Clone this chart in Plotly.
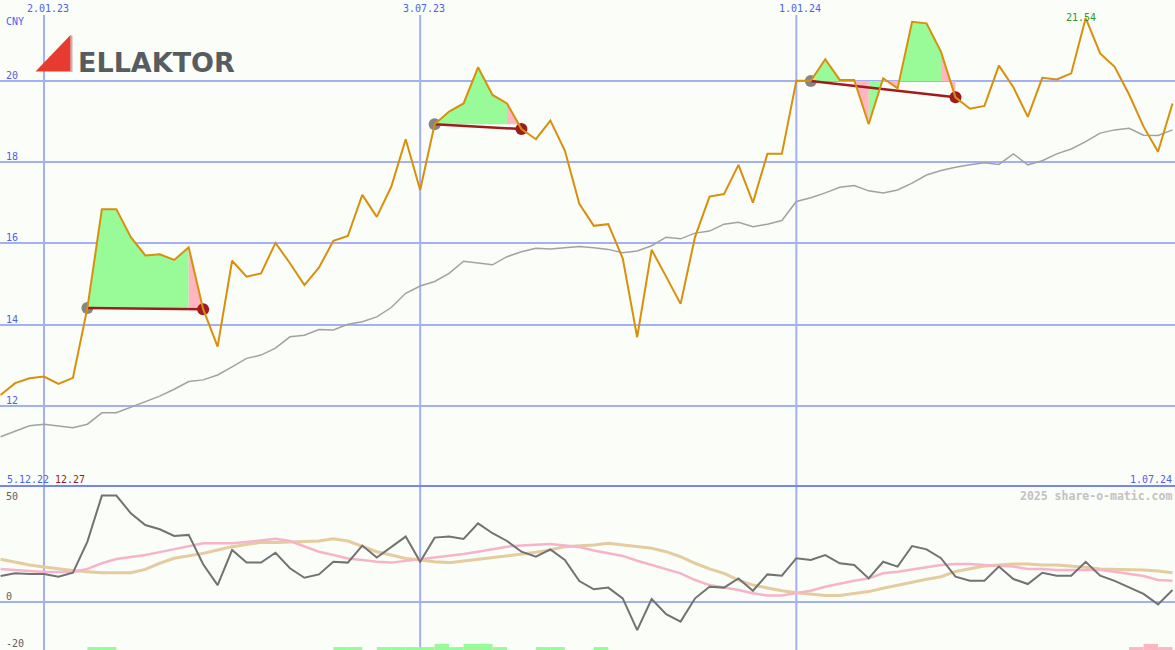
import plotly.graph_objects as go
import pandas as pd

W, H = 1175, 650

# ---------------- data ----------------
dates = pd.date_range("2022-12-12", periods=82, freq="7D")

price = [12.27, 12.56, 12.68, 12.72, 12.54, 12.69, 14.41, 16.84, 16.84, 16.15,
         15.70, 15.73, 15.59, 15.90, 14.38, 13.46, 15.57, 15.18, 15.26, 16.01,
         15.51, 14.97, 15.40, 16.06, 16.18, 17.19, 16.65, 17.39, 18.56, 17.31,
         18.93, 19.24, 19.44, 20.33, 19.65, 19.44, 18.81, 18.56, 19.02, 18.28,
         16.97, 16.43, 16.47, 15.63, 13.69, 15.84, 15.18, 14.51, 16.16, 17.15,
         17.21, 17.93, 17.00, 18.20, 18.20, 20.00, 20.00, 20.53, 20.02, 20.02,
         18.93, 20.06, 19.81, 21.45, 21.41, 20.71, 19.59, 19.31, 19.38, 20.37,
         19.84, 19.11, 20.07, 20.03, 20.18, 21.54, 20.67, 20.34, 19.66, 18.87,
         18.25, 19.44]

moving_avg = [11.24, 11.37, 11.51, 11.55, 11.51, 11.46, 11.55, 11.83, 11.83, 11.97,
              12.10, 12.24, 12.41, 12.60, 12.64, 12.76, 12.96, 13.17, 13.25, 13.42,
              13.70, 13.74, 13.88, 13.87, 14.01, 14.07, 14.19, 14.42, 14.77, 14.95,
              15.06, 15.26, 15.56, 15.52, 15.47, 15.67, 15.79, 15.88, 15.86, 15.89,
              15.92, 15.89, 15.85, 15.77, 15.81, 15.94, 16.15, 16.11, 16.25, 16.30,
              16.47, 16.52, 16.41, 16.47, 16.56, 17.03, 17.12, 17.24, 17.38, 17.42,
              17.29, 17.24, 17.31, 17.48, 17.68, 17.79, 17.87, 17.93, 17.98, 17.94,
              18.20, 17.93, 18.03, 18.20, 18.32, 18.50, 18.71, 18.79, 18.83, 18.66,
              18.65, 18.79]

oscillator = [12.2, 13.5, 13.2, 13.2, 11.9, 13.8, 28.6, 50.5, 50.5, 42.1,
              36.5, 34.5, 31.3, 31.8, 17.8, 7.9, 24.6, 18.6, 18.6, 23.3,
              15.9, 11.4, 13.0, 19.0, 18.6, 26.7, 21.0, 26.2, 31.0, 19.0,
              30.5, 31.0, 29.9, 37.3, 32.6, 28.9, 23.8, 21.4, 24.9, 19.9,
              9.8, 5.9, 6.7, 1.6, -13.5, 1.3, -5.9, -9.5, 1.6, 7.1,
              6.7, 11.1, 5.2, 13.0, 12.4, 20.7, 19.9, 22.2, 18.3, 17.5,
              11.1, 19.0, 16.7, 26.5, 24.9, 20.7, 11.9, 10.0, 10.0, 16.7,
              10.8, 8.4, 13.8, 12.4, 12.4, 19.0, 12.4, 9.9, 6.8, 3.7,
              -1.3, 5.6]

osc_pink = [15.6, 15.0, 14.6, 14.1, 14.1, 14.1, 15.6, 18.3, 20.3, 21.2,
            22.2, 23.6, 25.1, 26.5, 27.8, 27.8, 27.8, 28.4, 29.0, 29.9,
            28.9, 26.2, 23.8, 22.2, 20.6, 19.9, 19.0, 18.6, 19.4, 20.3,
            21.0, 21.8, 22.7, 23.8, 24.9, 26.2, 26.7, 27.0, 27.5, 26.7,
            26.0, 24.4, 23.0, 21.8, 19.5, 17.5, 15.6, 13.5, 10.3, 7.9,
            6.8, 5.6, 4.0, 2.9, 2.9, 4.0, 5.2, 7.1, 8.7, 10.0,
            11.1, 13.5, 14.3, 15.4, 16.7, 17.5, 18.0, 18.0, 17.5, 17.0,
            16.7, 15.6, 15.6, 15.1, 15.1, 15.1, 15.1, 14.3, 13.2, 12.2,
            10.3, 10.0]

osc_tan = [20.2, 18.8, 17.5, 16.5, 15.6, 14.9, 14.3, 13.8, 13.8, 13.8,
           15.4, 18.3, 20.7, 21.9, 23.0, 24.6, 26.2, 27.2, 28.3, 28.2,
           28.3, 28.6, 28.9, 29.9, 28.9, 26.2, 23.8, 22.2, 20.6, 19.9,
           19.0, 18.6, 19.4, 20.3, 21.0, 21.8, 22.7, 23.5, 24.6, 26.2,
           26.6, 27.0, 27.8, 27.0, 26.2, 25.4, 23.8, 21.4, 18.3, 15.6,
           13.5, 10.3, 7.9, 6.4, 5.2, 4.3, 3.7, 2.9, 2.9, 3.7,
           4.8, 6.4, 7.9, 9.5, 10.7, 11.9, 14.4, 15.7, 17.0, 17.5,
           18.0, 18.0, 17.5, 17.5, 17.0, 16.4, 15.6, 15.4, 15.4, 15.1,
           14.6, 13.8]

trade_entry_idx = [6, 30, 56]
trade_exit_idx = [14, 36, 66]
trade_entry_px = [14.41, 18.93, 19.99]
trade_exit_px = [14.38, 18.81, 19.59]

bar_green_idx = [6, 7, 23, 24, 26, 27, 28, 29, 30, 31, 32, 33, 34, 37, 38, 41]
bar_green_top = [-21.6, -21.6, -21.6, -21.6, -21.6, -21.6, -21.6, -21.6,
                 -20.1, -21.6, -20.1, -20.1, -21.6, -21.6, -21.6, -21.6]
bar_pink_idx = [78, 79, 80]
bar_pink_top = [-21.6, -20.1, -21.6]
bar_base = -30.0

top_ticks = [20, 18, 16, 14, 12]
bottom_ticks = [50, 0, -20]
x_tick_dates = ["2023-01-02", "2023-07-03", "2024-01-01"]
x_tick_labels = ["2.01.23", "3.07.23", "1.01.24"]
first_label = "5.12.22"
last_label = "1.07.24"
max_label = "21.54"
currency = "CNY"
company = "ELLAKTOR"
credit = "2025 share-o-matic.com"

# ---------------- styles ----------------
BG = "#FAFDF8"
GRID = "#A3B1F3"
BLUE_TXT = "#4F5FEF"
ORANGE = "#D8900C"
GREEN_FILL = "#98FB98"
PINK_FILL = "#FFB6C1"
DARKRED = "#A01C1C"
MONO = "DejaVu Sans Mono"

def ppy(px):
    return 1 - px / H

def ppx(px):
    return px / W

split = 487
fig = go.Figure()

# moving average
fig.add_trace(go.Scatter(x=dates, y=moving_avg, mode="lines",
                         line=dict(color="#A2A2A2", width=1.5),
                         xaxis="x", yaxis="y", hoverinfo="skip"))

# entry dots (under fills)
fig.add_trace(go.Scatter(x=[dates[i] for i in trade_entry_idx], y=trade_entry_px,
                         mode="markers", marker=dict(color="#858585", size=12),
                         xaxis="x", yaxis="y", hoverinfo="skip"))

# trade fills
gx, gy, rx, ry = [], [], [], []
for a, b, L in zip(trade_entry_idx, trade_exit_idx, trade_entry_px):
    for j in range(a, b):
        xs = [dates[j], dates[j], dates[j + 1], dates[j + 1], dates[j], None]
        ys = [L, price[j], price[j + 1], L, L, None]
        if price[j + 1] >= L:
            gx += xs; gy += ys
        else:
            rx += xs; ry += ys
fig.add_trace(go.Scatter(x=gx, y=gy, mode="lines", fill="toself",
                         fillcolor=GREEN_FILL, line=dict(width=0, color=GREEN_FILL),
                         xaxis="x", yaxis="y", hoverinfo="skip"))
fig.add_trace(go.Scatter(x=rx, y=ry, mode="lines", fill="toself",
                         fillcolor=PINK_FILL, line=dict(width=0, color=PINK_FILL),
                         xaxis="x", yaxis="y", hoverinfo="skip"))

# entry -> exit lines
for a, b, pa, pb in zip(trade_entry_idx, trade_exit_idx, trade_entry_px, trade_exit_px):
    fig.add_trace(go.Scatter(x=[dates[a], dates[b]], y=[pa, pb], mode="lines",
                             line=dict(color=DARKRED, width=2.5),
                             xaxis="x", yaxis="y", hoverinfo="skip"))

# exit dots
fig.add_trace(go.Scatter(x=[dates[i] for i in trade_exit_idx], y=trade_exit_px,
                         mode="markers", marker=dict(color=DARKRED, size=12),
                         xaxis="x", yaxis="y", hoverinfo="skip"))

# price
fig.add_trace(go.Scatter(x=dates, y=price, mode="lines",
                         line=dict(color=ORANGE, width=2),
                         xaxis="x", yaxis="y", hoverinfo="skip"))

# bottom panel
week_ms = 7 * 86400000
fig.add_trace(go.Bar(x=[dates[i] for i in bar_green_idx],
                     y=[t - bar_base for t in bar_green_top], base=bar_base,
                     width=week_ms, offset=0, marker=dict(color=GREEN_FILL, line=dict(width=0)),
                     xaxis="x2", yaxis="y2", hoverinfo="skip"))
fig.add_trace(go.Bar(x=[dates[i] for i in bar_pink_idx],
                     y=[t - bar_base for t in bar_pink_top], base=bar_base,
                     width=week_ms, offset=0, marker=dict(color=PINK_FILL, line=dict(width=0)),
                     xaxis="x2", yaxis="y2", hoverinfo="skip"))
fig.add_trace(go.Scatter(x=dates, y=osc_tan, mode="lines",
                         line=dict(color="#E5CC9E", width=3),
                         xaxis="x2", yaxis="y2", hoverinfo="skip"))
fig.add_trace(go.Scatter(x=dates, y=osc_pink, mode="lines",
                         line=dict(color="#F7B3C9", width=2.5),
                         xaxis="x2", yaxis="y2", hoverinfo="skip"))
fig.add_trace(go.Scatter(x=dates, y=oscillator, mode="lines",
                         line=dict(color="#727272", width=2),
                         xaxis="x2", yaxis="y2", hoverinfo="skip"))

x_range = ["2022-12-11 17:00", "2024-07-02 05:00"]
fig.update_layout(
    width=W, height=H, margin=dict(l=0, r=0, t=0, b=0),
    paper_bgcolor=BG, plot_bgcolor=BG, showlegend=False, barmode="overlay",
    xaxis=dict(type="date", range=x_range, domain=[0, 1], showgrid=False,
               showticklabels=False, zeroline=False, showline=False, anchor="y"),
    xaxis2=dict(type="date", range=x_range, domain=[0, 1], showgrid=False,
                showticklabels=False, zeroline=False, showline=False, anchor="y2",
                matches="x"),
    yaxis=dict(domain=[ppy(split), 1], range=[10.005, 21.985], tickvals=top_ticks,
               showgrid=True, gridcolor=GRID, gridwidth=2, showticklabels=False,
               zeroline=False, showline=False),
    yaxis2=dict(domain=[0, ppy(split)], range=[-23.0, 54.6], tickvals=[0],
                showgrid=True, gridcolor=GRID, gridwidth=2, showticklabels=False,
                zeroline=False, showline=False),
)

shapes = []
for d in x_tick_dates:
    shapes.append(dict(type="line", xref="x", yref="paper", x0=d, x1=d,
                       y0=0, y1=ppy(15), line=dict(color=GRID, width=2), layer="below"))
shapes.append(dict(type="line", xref="paper", yref="paper", x0=0, x1=1,
                   y0=ppy(486), y1=ppy(486), line=dict(color="#7886EC", width=2),
                   layer="below"))
# logo triangle + shadow
shapes.append(dict(type="path", xref="paper", yref="paper",
                   path=f"M {ppx(70.5)} {ppy(35)} L {ppx(72.5)} {ppy(36)} L {ppx(72.5)} {ppy(72)} L {ppx(70.5)} {ppy(72)} Z",
                   fillcolor="#B8B8B8", line=dict(width=0)))
shapes.append(dict(type="path", xref="paper", yref="paper",
                   path=f"M {ppx(35.5)} {ppy(71.5)} L {ppx(70.5)} {ppy(35)} L {ppx(70.5)} {ppy(71.5)} Z",
                   fillcolor="#E63B2E", line=dict(width=0)))
fig.update_layout(shapes=shapes)

ann = []
def txt(text, x, y, xanchor="left", color=BLUE_TXT, size=10, family=MONO, weight=None):
    f = dict(family=family, size=size, color=color)
    if weight:
        f["weight"] = weight
    ann.append(dict(text=text, xref="paper", yref="paper", x=ppx(x), y=ppy(y),
                    xanchor=xanchor, yanchor="middle", showarrow=False, font=f,
                    borderpad=0))

for v in top_ticks:
    ann.append(dict(text=str(v), xref="paper", yref="y", x=ppx(5), y=v,
                    xanchor="left", yanchor="middle", yshift=5.5, showarrow=False,
                    font=dict(family=MONO, size=10, color=BLUE_TXT), borderpad=0))
for v, s in zip(bottom_ticks, [0, 5.5, 0]):
    ann.append(dict(text=str(v), xref="paper", yref="y2", x=ppx(5), y=v,
                    xanchor="left", yanchor="middle", yshift=s, showarrow=False,
                    font=dict(family=MONO, size=10, color="#606060"),
                    borderpad=0))
for d, lab in zip(x_tick_dates, x_tick_labels):
    ann.append(dict(text=lab, xref="x", yref="paper", x=d, y=ppy(8.5), xshift=3.5,
                    xanchor="center", yanchor="middle", showarrow=False,
                    font=dict(family=MONO, size=10, color=BLUE_TXT), borderpad=0))
txt(currency, 5, 21.5)
txt(first_label, 6, 479)
txt(f"{price[0]:.2f}", 54, 479, color="#A01C1C")
txt(last_label, 1172.5, 479, xanchor="right")
txt(credit, 1172.5, 495.5, xanchor="right", color="#C2C2C2", size=11.5, weight="bold")
ann.append(dict(text=max_label, xref="x", yref="y", x=dates[price.index(max(price))],
                y=max(price), xshift=-5, yshift=1, xanchor="center", yanchor="middle",
                showarrow=False, font=dict(family=MONO, size=10, color="#2A9A2A"),
                borderpad=0))
txt(company, 77, 62, color="#575C61", size=27, family="DejaVu Sans", weight="bold")
fig.update_layout(annotations=ann)

fig.write_html("out.html", config=dict(displayModeBar=False, staticPlot=True),
               post_script="document.body.style.margin='0';document.body.style.overflow='hidden';")
